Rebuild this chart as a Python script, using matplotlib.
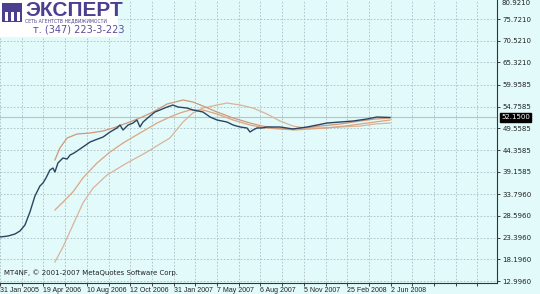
import matplotlib
matplotlib.use("Agg")
import matplotlib.pyplot as plt
from matplotlib.patches import Rectangle

# MT4 weekly chart, x = bar number
date_labels = ["31 Jan 2005", "19 Apr 2006", "10 Aug 2006", "12 Oct 2006", "31 Jan 2007",
               "7 May 2007", "6 Aug 2007", "5 Nov 2007", "25 Feb 2008", "2 Jun 2008"]
label_bars = [0, 20, 40, 60, 80, 100, 120, 140, 160, 180]

y_ticks = [75.7210, 70.5210, 65.3210, 59.9585, 54.7585, 49.5585, 44.3585,
           39.1585, 33.7960, 28.5960, 23.3960, 18.1960, 12.9960]
last_price = 52.15

price_x = [0, 3.7, 6.9, 9.2, 11.5, 13.8, 16.1, 18.4, 19.8, 21.2, 23.0, 24.4, 25.3, 26.7, 29.0,
           30.9, 32.3, 34.1, 35.5, 38.2, 41.5, 43.8, 47.5, 50.7, 53.9, 55.3, 56.7, 59.0, 61.3,
           63.1, 64.5, 65.9, 69.1, 71.4, 73.7, 77.0, 79.7, 82.0, 86.2, 88.9, 93.5, 96.8, 100.0,
           104.6, 107.4, 110.6, 113.8, 115.2, 116.6, 118.4, 120.7, 123.0, 129.0, 135.0, 141.5,
           146.1, 150.7, 156.7, 162.7, 169.1, 173.7, 179.7]
price_y = [23.53, 23.77, 24.25, 24.97, 26.40, 29.52, 33.35, 35.74, 36.46, 37.66, 39.57, 40.05,
           39.09, 41.25, 42.44, 42.20, 43.16, 43.64, 44.12, 45.08, 46.27, 46.75, 47.47, 48.67,
           49.63, 50.34, 49.15, 50.34, 50.82, 51.54, 49.87, 51.06, 52.50, 53.46, 53.94, 54.65,
           55.13, 54.65, 54.41, 53.94, 53.46, 52.26, 51.54, 51.06, 50.34, 49.87, 49.63, 48.67,
           49.15, 49.63, 49.63, 49.87, 49.87, 49.39, 49.87, 50.34, 50.82, 51.06, 51.30, 51.78,
           52.26, 52.15]

ma1_x = [25.3, 27.6, 30.9, 35.5, 41.5, 47.5, 52.1, 58.5, 64.5, 70.5, 77.0, 84.3, 88.9, 93.5,
         100.0, 107.4, 115.2, 120.7, 126.7, 133.6, 140.6, 147.5, 156.7, 165.9, 172.8, 179.7]
ma1_y = [41.97, 44.84, 47.23, 48.19, 48.43, 48.91, 49.63, 50.82, 52.02, 53.46, 55.37, 56.33,
         55.85, 54.89, 53.46, 52.02, 50.82, 50.10, 49.63, 49.39, 49.63, 50.10, 50.58, 51.30,
         51.78, 52.02]

ma2_x = [25.3, 30.0, 33.6, 38.2, 44.7, 50.7, 56.7, 64.5, 72.4, 78.3, 82.9, 87.6, 93.5, 100.0,
         107.4, 115.2, 122.1, 129.0, 135.9, 142.9, 150.7, 159.0, 165.9, 172.8, 179.7]
ma2_y = [30.00, 32.39, 34.31, 37.66, 41.25, 43.88, 46.03, 48.43, 50.82, 52.26, 53.22, 53.94,
         53.94, 52.98, 51.54, 50.34, 49.63, 49.39, 49.15, 49.39, 49.63, 50.10, 50.58, 51.06,
         51.54]

ma3_x = [25.3, 29.0, 33.6, 38.2, 42.9, 49.3, 58.5, 67.7, 73.7, 78.3, 84.3, 88.9, 93.5, 100.0,
         104.6, 110.6, 116.6, 123.0, 129.0, 135.0, 140.6, 147.5, 156.7, 165.9, 172.8, 179.7]
ma3_y = [17.54, 21.14, 26.40, 31.67, 35.26, 38.37, 41.25, 43.88, 45.80, 47.23, 51.06, 53.22,
         54.41, 55.13, 55.61, 55.13, 54.41, 52.98, 51.30, 50.10, 49.63, 49.63, 49.87, 50.10,
         50.58, 50.82]

bg = "#e2fafa"
fig = plt.figure(figsize=(5.4, 2.94), dpi=100, facecolor=bg)
ax = fig.add_axes([0, 1 - 283 / 294, 497 / 540, 283 / 294], facecolor=bg)

ax.set_xlim(0, 229)
ax.set_ylim(12.52, 80.27)

ax.axhline(last_price, color="#b8c4c8", lw=0.8, zorder=1)
ax.plot(ma3_x, ma3_y, color="#d8b49a", lw=0.9, zorder=2)
ax.plot(ma2_x, ma2_y, color="#dba582", lw=0.9, zorder=2)
ax.plot(ma1_x, ma1_y, color="#cf9878", lw=0.9, zorder=2)
ax.plot(price_x, price_y, color="#2a4560", lw=1.0, zorder=3)

# grid
xt = list(range(0, 230, 10))
ax.set_xticks(xt)
ax.set_xticklabels([date_labels[label_bars.index(b)] if b in label_bars else "" for b in xt])
for lbl in ax.get_xticklabels():
    lbl.set_ha("left")
    lbl.set_family("Liberation Sans")
ax.set_yticks(y_ticks)
ax.set_yticklabels(["%.4f" % v for v in y_ticks])
ax.yaxis.tick_right()
ax.grid(True, color="#a9bfc6", ls=(0, (2, 2)), lw=0.6)
ax.tick_params(axis="x", length=2, width=0.6, pad=1, labelsize=5.0, colors="#222222")
ax.tick_params(axis="y", length=2, width=0.6, pad=2, labelsize=5, colors="#222222")
for s in ["left", "top"]:
    ax.spines[s].set_visible(False)
for s in ["right", "bottom"]:
    ax.spines[s].set_color("#333333")
    ax.spines[s].set_linewidth(0.8)

# top label and current price box
ax.text(1.01, 79.6, "80.9210", transform=ax.get_yaxis_transform(), fontsize=5,
        va="center", ha="left", color="#222222", clip_on=False)
ax.text(1.008, last_price, "52.1500", transform=ax.get_yaxis_transform(), fontsize=5,
        va="center", ha="left", color="white", clip_on=False,
        bbox=dict(boxstyle="square,pad=0.15", fc="black", ec="black"))

ax.text(2, 15.0, "MT4NF, \u00a9 2001-2007 MetaQuotes Software Corp.", fontsize=5,
        color="#222222", ha="left", va="center", transform=ax.transData)

# logo
fig.patches.append(Rectangle((0, 1 - 37 / 294), 118 / 540, 37 / 294,
                             transform=fig.transFigure, fc="white", ec="none", zorder=5))
fig.patches.append(Rectangle((2 / 540, 1 - 22 / 294), 20 / 540, 19 / 294,
                             transform=fig.transFigure, fc="#4d3f8f", ec="none", zorder=6))
for bx in [5, 11, 17]:
    fig.patches.append(Rectangle((bx / 540, 1 - 21 / 294), 3 / 540, 9 / 294,
                                 transform=fig.transFigure, fc="white", ec="none", zorder=7))
fig.text(25 / 540, 1 - 10 / 294, "ЭКСПЕРТ", fontsize=15, fontweight="bold", color="#4d3f8f",
         family="Liberation Sans", va="center", ha="left", zorder=8)
fig.text(25 / 540, 1 - 21 / 294, "СЕТЬ АГЕНТСТВ НЕДВИЖИМОСТИ", fontsize=3.3, color="#4d3f8f",
         va="center", ha="left", zorder=8)
fig.text(33 / 540, 1 - 29 / 294, "т. (347) 223-3-223", fontsize=7, color="#5a4c9c",
         va="center", ha="left", zorder=8)

fig.savefig("out.png", dpi=100, facecolor=bg)
